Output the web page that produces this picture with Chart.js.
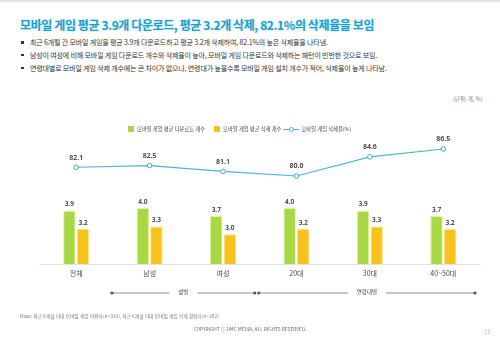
<!DOCTYPE html>
<html>
<head>
<meta charset="utf-8">
<script src="https://cdn.jsdelivr.net/npm/chart.js@4/dist/chart.umd.min.js"></script>
<style>
  body { margin: 0; background: #fff; font-family: "Noto Sans CJK KR", "Noto Sans", sans-serif; }
  #page { position: relative; width: 500px; height: 338px; overflow: hidden; border-top: 2px solid #e4e4e4; box-sizing: border-box; }
  #chart { position: absolute; left: 0; top: 0; }
  .title { position: absolute; left: 20px; top: 14px; font-size: 12px; font-weight: 700; color: #1b9dcb; letter-spacing: -0.4px; white-space: nowrap; text-shadow: 0 0 3px rgba(120,210,240,0.5); }
  .bullets { position: absolute; left: 20px; top: 35px; margin: 0; padding: 0; list-style: none; font-size: 7px; color: #333; }
  .bullets li { position: relative; padding-left: 10px; height: 12.8px; white-space: nowrap; letter-spacing: -0.15px; }
  .bullets li:before { content: ""; position: absolute; left: 1px; top: 4px; width: 2.5px; height: 2.5px; background: #333; }
  .unit { position: absolute; left: 453px; top: 93px; font-size: 5.5px; color: #777; }
  .legend { position: absolute; top: 123px; left: 128px; font-size: 5.3px; color: #444; white-space: nowrap; display: flex; align-items: center; }
  .legend span { display: inline-flex; align-items: center; margin-right: 9px; }
  .sq { width: 6px; height: 6px; margin-right: 3px; }
  .ln { position: relative; width: 16px; height: 1px; background: #4fb4cf; margin-right: 2px; margin-left: -7px; }
  .ln:after { content: ""; position: absolute; left: 6px; top: -2px; width: 3px; height: 3px; border: 1px solid #4fb4cf; border-radius: 50%; background: #fff; }
  .base { position: absolute; left: 20px; top: 310px; font-size: 4.8px; color: #777; white-space: nowrap; }
  .copy { position: absolute; left: 0; width: 500px; top: 323px; text-align: center; font-size: 4.8px; color: #666; }
  .pnum { position: absolute; left: 484px; top: 325px; font-size: 6px; color: #bbb; }
</style>
</head>
<body>
<div id="page">
  <div class="title">모바일 게임 평균 3.9개 다운로드, 평균 3.2개 삭제, 82.1%의 삭제율을 보임</div>
  <ul class="bullets">
    <li>최근 6개월 간 모바일 게임을 평균 3.9개 다운로드하고 평균 3.2개 삭제하여, 82.1%의 높은 삭제율을 나타냄.</li>
    <li>남성이 여성에 비해 모바일 게임 다운로드 개수와 삭제율이 높아, 모바일 게임 다운로드와 삭제하는 패턴이 빈번한 것으로 보임.</li>
    <li>연령대별로 모바일 게임 삭제 개수에는 큰 차이가 없으나, 연령대가 높을수록 모바일 게임 설치 개수가 적어, 삭제율이 높게 나타남.</li>
  </ul>
  <div class="unit">(단위: 개, %)</div>
  <canvas id="chart" width="500" height="338"></canvas>
  <div class="legend">
    <span><i class="sq" style="background:#a8d944"></i>모바일 게임 평균 다운로드 개수</span>
    <span><i class="sq" style="background:#f8c21c"></i>모바일 게임 평균 삭제 개수</span>
    <span><i class="ln"></i>모바일 게임 삭제율(%)</span>
  </div>
  <div class="base">Base: 최근 6개월 이내 모바일 게임 이용자(n=310), 최근 6개월 이내 모바일 게임 삭제 경험자(n=262)</div>
  <div class="copy">COPYRIGHT ⓒ DMC MEDIA, ALL RIGHTS RESERVED.</div>
  <div class="pnum">15</div>
</div>
<script>
const categories = ['전체', '남성', '여성', '20대', '30대', '40~50대'];
const downloads = [3.9, 4.0, 3.7, 4.0, 3.9, 3.7];
const deletes = [3.2, 3.3, 3.0, 3.2, 3.3, 3.2];
const deleteRate = [82.1, 82.5, 81.1, 80.0, 84.6, 86.5];
const groups = [
    { label: '성별', from: 1, to: 2 },
    { label: '연령대별', from: 3, to: 5 }
];

const valueLabels = {
    id: 'valueLabels',
    afterDatasetsDraw(chart) {
        const ctx = chart.ctx;
        ctx.save();
        ctx.fillStyle = '#333';
        ctx.textAlign = 'center';
        ctx.textBaseline = 'bottom';
        chart.data.datasets.forEach((ds, i) => {
            const meta = chart.getDatasetMeta(i);
            ctx.font = (ds.type === 'line' ? '600 7px' : '600 6.5px') + ' "Noto Sans", sans-serif';
            meta.data.forEach((el, j) => {
                const gap = ds.type === 'line' ? 6 : 3;
                ctx.fillText(ds.data[j].toFixed(1), el.x, el.y - gap);
            });
        });
        ctx.restore();
    }
};

// brackets under the x axis: 성별 / 연령대별
const groupBrackets = {
    id: 'groupBrackets',
    afterDraw(chart) {
        const ctx = chart.ctx;
        const x = chart.scales.x;
        const half = (x.getPixelForTick(1) - x.getPixelForTick(0)) / 2;
        const y = 291;
        ctx.save();
        ctx.font = '5.5px "Noto Sans CJK KR", sans-serif';
        ctx.textAlign = 'center';
        ctx.textBaseline = 'middle';
        groups.forEach(g => {
            const x1 = x.getPixelForTick(g.from) - half - 1;
            const x2 = x.getPixelForTick(g.to) + half - 5;
            const mid = (x1 + x2) / 2;
            const tw = ctx.measureText(g.label).width / 2 + 9;
            ctx.strokeStyle = '#777';
            ctx.lineWidth = 0.8;
            ctx.beginPath();
            ctx.moveTo(x1, y); ctx.lineTo(mid - tw, y);
            ctx.moveTo(mid + tw, y); ctx.lineTo(x2, y);
            ctx.stroke();
            ctx.fillStyle = '#555';
            [x1, x2].forEach(px => {
                ctx.beginPath();
                ctx.arc(px, y, 1.6, 0, Math.PI * 2);
                ctx.fill();
            });
            ctx.fillStyle = '#444';
            ctx.fillText(g.label, mid, y - 1);
        });
        ctx.restore();
    }
};

new Chart(document.getElementById('chart'), {
    data: {
        labels: categories,
        datasets: [
            {
                type: 'line',
                label: '모바일 게임 삭제율(%)',
                data: deleteRate,
                yAxisID: 'y2',
                borderColor: '#4fb4cf',
                borderWidth: 1.2,
                pointRadius: 2.3,
                pointBorderWidth: 1,
                pointBackgroundColor: '#fff',
                pointBorderColor: '#3fa9c6',
                tension: 0
            },
            {
                type: 'bar',
                label: '모바일 게임 평균 다운로드 개수',
                data: downloads,
                yAxisID: 'y',
                backgroundColor: '#a8d944',
                borderColor: '#e4f5a2',
                borderWidth: 1,
                categoryPercentage: 0.37,
                barPercentage: 0.92
            },
            {
                type: 'bar',
                label: '모바일 게임 평균 삭제 개수',
                data: deletes,
                yAxisID: 'y',
                backgroundColor: '#f8c21c',
                borderColor: '#fde48a',
                borderWidth: 1,
                categoryPercentage: 0.37,
                barPercentage: 0.92
            }
        ]
    },
    options: {
        responsive: false,
        animation: false,
        layout: { padding: { left: 39.5, right: 20, top: 115, bottom: 36 } },
        plugins: {
            legend: { display: false },
            tooltip: { enabled: false }
        },
        scales: {
            x: {
                grid: { display: false, drawTicks: false },
                border: { color: '#e2e2e2', width: 1 },
                ticks: {
                    padding: 5,
                    color: '#444',
                    font: { size: 7, family: '"Noto Sans CJK KR", sans-serif' }
                },
                afterFit(axis) { axis.height = 40; }
            },
            y: { display: false, min: 1.87, max: 7.47 },
            y2: { display: false, min: 58.82, max: 94.2 }
        }
    },
    plugins: [valueLabels, groupBrackets]
});
</script>
</body>
</html>
